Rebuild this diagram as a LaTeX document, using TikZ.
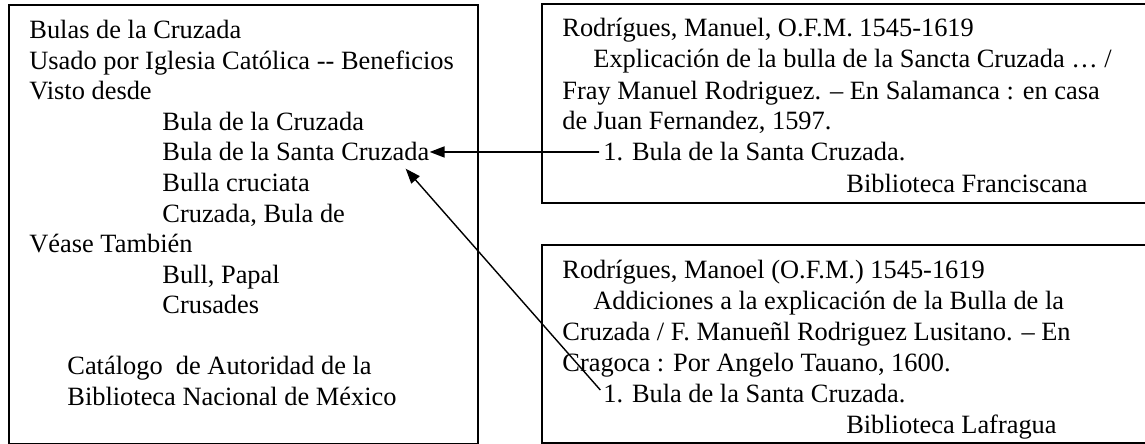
\documentclass[tikz,border=0pt]{standalone}
\usepackage{fontspec}
\setmainfont{Liberation Serif}
\usepackage{tikz}
\usetikzlibrary{arrows.meta, calc}
\definecolor{ink}{HTML}{000000}
\tikzset{
  card/.style={rectangle, draw=ink, line width=1pt, inner sep=0pt, anchor=north west},
  frame/.style={draw=ink, line width=1pt},
  ln/.style={anchor=base west, inner sep=0pt, text=ink, font=\fontsize{13.2}{15}\selectfont},
  lnr/.style={ln, anchor=base east},
  ar/.style={-{Triangle[length=7.5pt, width=5.5pt]}, draw=ink, line width=0.9pt, shorten <=2pt},
}

\begin{document}
\begin{tikzpicture}[x=0.5pt, y=-0.5pt]
\useasboundingbox (0,0) rectangle (1145,444);

% authority record
\node[card, minimum width=234.5pt, minimum height=219.5pt] (auth) at (8,4) {};
\node[ln] (A1)  at (29,39)    {Bulas de la Cruzada};
\node[ln] (A2)  at (29,69.5)  {Usado por Iglesia Católica -{}- Beneficios};
\node[ln] (A3)  at (29,100)   {Visto desde};
\node[ln] (A4)  at (162,130.5){Bula de la Cruzada};
\node[ln] (SC)  at (162,161)  {Bula de la Santa Cruzada};
\node[ln] (A6)  at (162,191.5){Bulla cruciata};
\node[ln] (A7)  at (162,222)  {Cruzada, Bula de};
\node[ln] (A8)  at (29,252.5) {Véase También};
\node[ln] (A9)  at (162,283)  {Bull, Papal};
\node[ln] (A10) at (162,313.5){Crusades};
\node[ln] (A11) at (67,374.5) {Catálogo\ \ de Autoridad de la};
\node[ln] (A12) at (67,405)   {Biblioteca Nacional de México};

% bibliographic record 1
\draw[frame] (1145,4) -| (542,203) -- (1145,203);
\node[ln] (F1) at (562,37)  {Rodrígues, Manuel, O.F.M. 1545-1619};
\node[ln] (F2) at (593,68)  {Explicación de la bulla de la Sancta Cruzada … /};
\node[ln] (F3) at (562,99)  {Fray Manuel Rodriguez. – En Salamanca : en casa};
\node[ln] (F4) at (562,130) {de Juan Fernandez, 1597.};
\node[ln] (FR1) at (603,161) {1. Bula de la Santa Cruzada.};
\node[lnr] (F6) at (1088,192) {Biblioteca Franciscana};

% bibliographic record 2
\draw[frame] (1145,245) -| (542,443) -- (1145,443);
\node[ln] (L1) at (562,278) {Rodrígues, Manoel (O.F.M.) 1545-1619};
\node[ln] (L2) at (593,309) {Addiciones a la explicación de la Bulla de la};
\node[ln] (L3) at (562,340) {Cruzada / F. Manueñl Rodriguez Lusitano. – En};
\node[ln] (L4) at (562,371) {Cragoca : Por Angelo Tauano, 1600.};
\node[ln] (FR2) at (603,402) {1. Bula de la Santa Cruzada.};
\node[lnr] (L6) at (1057,433) {Biblioteca Lafragua};

% links to the heading
\draw[ar] (FR1.west) -- (SC.east);
\draw[ar, line width=0.7pt] (FR2.west) -- ($(SC.south east)+(-12pt,-3.5pt)$);

\end{tikzpicture}
\end{document}
